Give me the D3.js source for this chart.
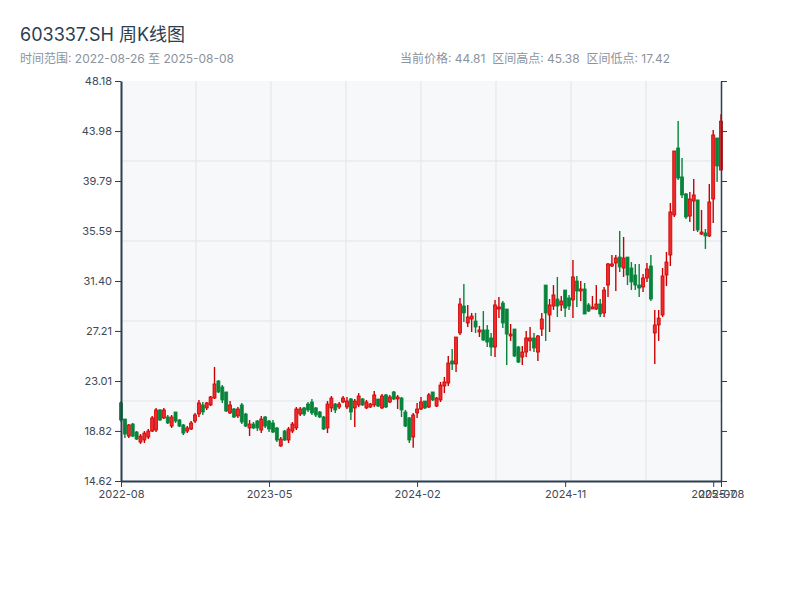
<!DOCTYPE html>
<html><head><meta charset="utf-8">
<script src="https://cdn.jsdelivr.net/npm/d3@7"></script>
<style>
html,body{margin:0;padding:0;background:#fff;}
svg{display:block;font-family:Inter,"Noto Sans CJK SC",sans-serif;}
</style></head>
<body><svg id="c" width="800" height="600"></svg>
<script>
const title = "603337.SH 周K线图";
const subtitle = "时间范围: 2022-08-26 至 2025-08-08";
const statsText = "当前价格: 44.81  区间高点: 45.38  区间低点: 17.42";
const firstWeek = new Date(2022, 7, 26), lastWeek = new Date(2025, 7, 8);
const yTickLabels = ["14.62","18.82","23.01","27.21","31.40","35.59","39.79","43.98","48.18"];
const xTickIndex = [0, 38, 76, 114, 152, 154];

const open = [21.17,19.82,18.39,19.40,18.73,17.89,18.06,18.31,18.81,18.90,20.58,19.91,19.99,19.23,20.41,19.74,19.32,18.81,18.98,19.65,20.24,21.00,20.75,21.00,21.58,23.01,22.51,22.09,20.33,20.66,20.08,21.00,20.24,19.07,19.40,19.65,18.90,19.99,19.65,19.49,
19.07,17.56,18.81,18.06,18.81,19.07,20.24,20.75,21.08,21.25,20.75,20.41,19.99,19.07,20.75,21.08,20.83,21.25,20.83,21.50,20.75,21.00,21.50,20.75,20.83,21.00,21.50,20.75,21.84,21.25,22.09,21.50,21.58,20.41,19.91,18.31,20.33,20.66,21.33,20.83,
22.09,20.91,21.42,22.59,22.84,24.69,24.44,27.04,29.30,27.88,28.21,28.04,27.12,27.29,27.29,26.62,25.86,29.05,29.55,29.05,26.79,27.37,25.86,25.02,25.44,26.37,26.62,25.44,27.37,31.06,28.55,29.30,29.89,29.39,30.64,29.98,29.81,31.40,30.56,30.73,
29.39,29.05,29.05,29.47,28.72,31.06,32.66,32.91,33.41,32.49,33.41,32.49,31.90,31.06,30.90,31.65,32.66,27.04,27.71,28.55,31.90,33.58,36.94,42.56,40.13,38.70,36.85,38.11,38.20,35.34,35.43,35.18,38.28,43.40,40.71];
const close = [19.74,18.56,19.32,18.39,18.14,18.39,18.64,18.81,19.91,20.58,19.74,20.58,19.49,19.99,19.65,19.23,18.64,19.07,19.49,20.16,21.17,20.41,21.17,21.67,22.76,22.09,21.42,20.49,21.00,19.99,20.66,19.57,19.23,19.40,19.07,19.07,19.82,19.23,18.98,18.73,
18.06,18.14,18.06,18.98,19.40,20.66,20.66,20.24,20.58,20.33,20.16,19.99,18.98,21.08,21.58,20.58,21.08,21.58,21.33,20.41,21.33,21.75,21.00,21.25,21.08,21.84,20.91,21.75,20.83,21.67,21.50,21.67,20.58,19.23,18.06,20.16,20.66,21.25,20.75,21.84,
21.42,21.58,22.67,22.93,24.52,24.44,26.70,29.47,28.72,28.38,28.46,27.54,27.29,26.45,26.28,25.86,29.39,29.22,27.88,26.95,26.95,25.11,24.60,25.44,26.62,26.62,25.78,26.79,28.21,28.72,29.39,30.23,29.30,29.72,29.13,29.30,31.74,30.56,30.73,28.63,
28.88,29.22,29.47,28.63,30.64,32.83,32.83,33.33,32.58,33.33,31.90,31.32,31.06,30.81,31.65,32.41,29.89,27.71,28.29,31.82,32.99,37.19,42.31,40.04,38.62,36.77,38.28,38.62,35.68,35.51,35.18,38.03,43.65,41.05,44.81];
const high = [21.33,19.82,19.40,19.49,18.81,18.56,18.81,18.98,20.08,20.75,20.66,20.75,20.16,20.16,20.41,19.82,19.40,19.23,19.65,20.33,21.42,21.25,21.25,21.75,24.19,23.09,22.67,22.09,21.33,20.75,20.83,21.17,20.33,19.74,19.57,19.74,20.08,20.08,19.74,19.74,
19.15,18.31,18.90,19.15,19.57,20.83,20.83,20.83,21.25,21.50,20.83,20.49,20.08,21.33,21.75,21.17,21.25,21.75,21.67,21.58,21.50,22.00,21.58,21.42,21.17,22.17,21.50,21.92,21.92,21.84,22.17,21.84,21.67,20.58,19.99,20.33,21.17,21.67,21.33,22.00,
22.09,21.67,22.93,23.35,25.11,25.69,26.70,29.98,31.15,29.39,28.72,28.72,27.63,28.88,27.71,27.04,29.81,30.06,29.72,29.05,27.79,27.37,25.95,25.95,27.21,27.54,27.04,26.87,28.72,31.06,29.89,31.06,31.74,30.14,30.64,30.23,33.16,31.82,31.40,31.23,
29.55,30.14,31.06,29.89,30.90,32.91,33.58,33.58,35.59,35.09,33.41,32.99,32.83,32.83,31.99,32.91,33.58,28.97,28.97,32.49,33.83,37.94,42.31,44.82,41.72,38.78,38.87,39.96,38.20,37.36,35.76,39.54,44.07,43.40,45.38];
const low = [19.57,18.23,18.23,18.31,18.06,17.73,17.81,18.14,18.73,18.73,19.65,19.82,19.40,19.07,19.49,19.15,18.48,18.64,18.90,19.49,19.99,20.16,20.58,20.91,21.50,22.00,21.17,20.41,20.24,19.91,19.91,19.40,19.15,18.39,18.98,18.81,18.64,19.07,18.73,18.64,
17.89,17.50,17.98,17.81,18.64,18.90,20.08,20.08,20.41,20.16,19.99,19.91,18.90,18.64,20.41,20.33,20.66,21.17,20.66,19.74,19.15,20.83,20.91,20.66,20.75,20.83,20.83,20.66,20.75,21.17,21.42,20.66,19.99,19.15,17.81,17.42,19.91,20.58,20.66,20.75,
21.33,20.83,21.25,22.00,22.59,23.93,23.77,26.87,27.96,27.54,27.12,27.04,26.70,26.37,25.86,25.11,25.02,28.29,27.46,24.35,26.37,25.02,24.52,24.35,25.02,25.53,25.44,24.69,26.79,26.37,27.12,28.97,28.38,28.88,28.38,28.97,28.29,29.22,29.72,28.63,
28.80,29.05,28.97,28.38,28.38,30.06,32.58,30.56,32.16,31.74,31.06,30.64,30.64,30.06,30.48,31.32,29.72,24.44,26.37,28.38,30.98,32.66,36.77,39.87,38.36,36.60,36.35,35.59,35.51,35.26,34.09,35.09,36.27,39.71,40.71];

const dates = d3.timeFriday.range(firstWeek, d3.timeDay.offset(lastWeek, 1));
const data = dates.map((d, i) => ({date: d, o: open[i], c: close[i], h: high[i], l: low[i]}));

const M = {left: 121, top: 81}, W = 600, H = 400;
const svg = d3.select("#c");

svg.append("text").attr("x", 20).attr("y", 41).attr("font-size", 18)
  .attr("fill", "#2c3e50").text(title);
svg.append("text").attr("x", 20).attr("y", 63).attr("font-size", 12)
  .attr("fill", "#8c939d").text(subtitle);
svg.append("text").attr("x", 400).attr("y", 63).attr("font-size", 12)
  .attr("fill", "#8c939d").style("white-space", "pre").text(statsText);

const g = svg.append("g").attr("transform", `translate(${M.left},${M.top})`);
const x = d3.scaleTime().domain([firstWeek, lastWeek]).range([0, W]);
const yTicks = yTickLabels.map(Number);
const y = d3.scaleLinear().domain([yTicks[0], yTicks[yTicks.length - 1]]).range([H, 0]);

g.append("rect").attr("width", W).attr("height", H).attr("fill", "#f6f8fa");

const gx = d3.scaleLinear().domain([0, 8]).range([0, W]);
const gy = d3.scaleLinear().domain([0, 5]).range([H, 0]);
g.append("g").selectAll("line").data(d3.range(1, 8)).join("line")
  .attr("x1", d => gx(d)).attr("x2", d => gx(d)).attr("y1", 0).attr("y2", H)
  .attr("stroke", "#e1e4e8").attr("stroke-width", 1);
g.append("g").selectAll("line").data(d3.range(1, 5)).join("line")
  .attr("y1", d => gy(d)).attr("y2", d => gy(d)).attr("x1", 0).attr("x2", W)
  .attr("stroke", "#e1e4e8").attr("stroke-width", 1);

const up = "#cc0000", upFill = "#ee2a2a", down = "#07843a";
const bw = 3;
const cg = g.append("g");
cg.selectAll("line").data(data).join("line")
  .attr("x1", d => x(d.date)).attr("x2", d => x(d.date))
  .attr("y1", d => y(d.h)).attr("y2", d => y(d.l))
  .attr("stroke", d => d.c >= d.o ? up : down).attr("stroke-width", 1.4);
cg.selectAll("rect").data(data).join("rect")
  .attr("x", d => x(d.date) - bw / 2).attr("width", bw)
  .attr("y", d => y(Math.max(d.o, d.c)))
  .attr("height", d => Math.max(1, Math.abs(y(d.o) - y(d.c))))
  .attr("fill", d => d.c >= d.o ? upFill : down)
  .attr("stroke", d => d.c >= d.o ? up : down).attr("stroke-width", 0.8);

const axisColor = "#2c3e50";
const yAxis = g.append("g").call(d3.axisLeft(y).tickValues(yTicks).tickFormat((d, i) => yTickLabels[i]).tickSizeOuter(0));
const yAxisR = g.append("g").attr("transform", `translate(${W},0)`)
  .call(d3.axisRight(y).tickValues(yTicks).tickFormat("").tickSizeOuter(0));
const xAxis = g.append("g").attr("transform", `translate(0,${H})`)
  .call(d3.axisBottom(x).tickValues(xTickIndex.map(i => dates[i])).tickFormat(d3.timeFormat("%Y-%m")).tickSizeOuter(0));
[yAxis, yAxisR, xAxis].forEach(a => {
  a.select(".domain").attr("stroke", axisColor).attr("stroke-width", 2);
  a.selectAll(".tick line").attr("stroke", axisColor);
  a.selectAll(".tick text").attr("fill", "#3d4a57").attr("font-size", 11)
    .attr("font-family", 'Inter,"Noto Sans CJK SC",sans-serif');
});
yAxisR.select(".domain").attr("stroke-width", 1.5);
</script></body></html>
